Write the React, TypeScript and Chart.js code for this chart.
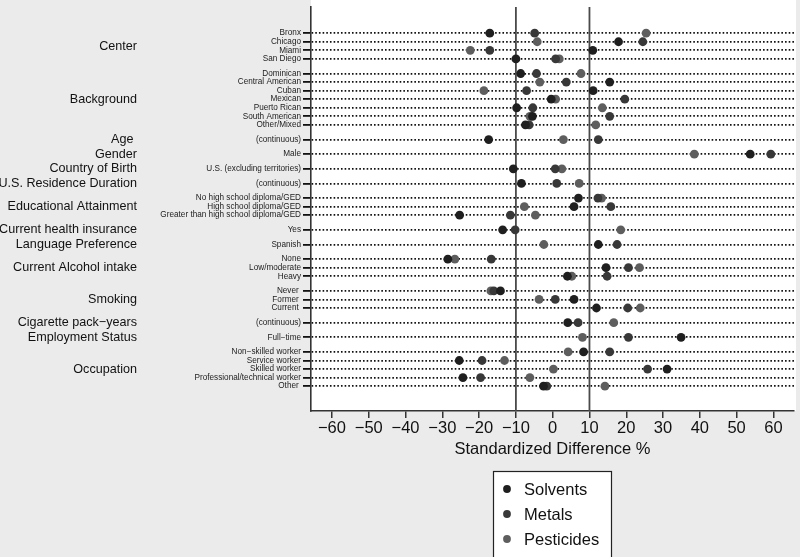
import React, { useEffect, useRef } from 'react';
import { Chart, registerables } from 'chart.js';

Chart.register(...registerables);

const groupNames = [
  'Center', 'Background', 'Age ', 'Gender', 'Country of Birth', 'U.S. Residence Duration',
  'Educational Attainment', 'Current health insurance', 'Language Preference',
  'Current Alcohol intake', 'Smoking', 'Cigarette pack\u2212years', 'Employment Status', 'Occupation',
];
const groupSizes = [4, 7, 1, 1, 1, 1, 3, 1, 1, 3, 3, 1, 1, 5];

const rowLabels = [
  'Bronx', 'Chicago', 'Miami', 'San Diego',
  'Dominican', 'Central American', 'Cuban', 'Mexican', 'Puerto Rican', 'South American', 'Other/Mixed',
  '(continuous)',
  'Male',
  'U.S. (excluding territories)',
  '(continuous)',
  'No high school diploma/GED', 'High school diploma/GED', 'Greater than high school diploma/GED',
  'Yes',
  'Spanish',
  'None', 'Low/moderate', 'Heavy',
  'Never ', 'Former ', 'Current ',
  '(continuous)',
  'Full\u2212time',
  'Non\u2212skilled worker', 'Service worker', 'Skilled worker', 'Professional/technical worker', 'Other ',
];

const solvents = [
  -17.1, 17.9, 10.9, -10.0,
  -8.7, 15.5, 11.0, -0.4, -9.8, -5.5, -7.4,
  -17.4, 53.7, -10.7, -8.5,
  7.0, 5.8, -25.3,
  -13.6, 12.4,
  -28.5, 14.5, 4.0,
  -14.2, 5.8, 11.9,
  4.1, 34.9,
  8.4, -25.4, 31.1, -24.4, -2.5,
];
const metals = [
  -4.9, 24.5, -17.1, 0.8,
  -4.4, 3.7, -7.1, 19.6, -5.4, 15.5, -6.4,
  12.4, 59.3, 0.7, 1.1,
  12.3, 15.8, -11.5,
  -10.2, 17.5,
  -16.7, 20.6, 14.8,
  -16.0, 0.7, 20.4,
  6.9, 20.6,
  15.5, -19.2, 25.8, -19.6, -1.6,
];
const pesticides = [
  25.4, -4.2, -22.4, 1.8,
  7.7, -3.5, -18.7, 0.8, 13.5, -6.2, 11.7,
  2.9, 38.5, 2.5, 7.2,
  13.3, -7.7, -4.7,
  18.5, -2.4,
  -26.6, 23.6, 5.2,
  -16.8, -3.7, 23.8,
  16.6, 8.1,
  4.2, -13.1, 0.2, -6.2, 14.2,
];

const seriesNames = ['Solvents', 'Metals', 'Pesticides'];
const seriesColors = ['#1f1f1f', '#383838', '#5e5e5e'];
const xTicks = [-60, -50, -40, -30, -20, -10, 0, 10, 20, 30, 40, 50, 60];
const refLines = [-10, 10];

const GAP = 1.71;
const FONT = "'Liberation Sans', Arial, Helvetica, sans-serif";

function rowPositions(): number[] {
  const pos: number[] = [];
  let y = 0;
  groupSizes.forEach((n, g) => {
    if (g > 0) y += GAP - 1;
    for (let i = 0; i < n; i++) {
      pos.push(y);
      y += 1;
    }
  });
  return pos;
}

export default function App() {
  const ref = useRef<HTMLCanvasElement | null>(null);

  useEffect(() => {
    document.body.style.margin = '0';
    const canvas = ref.current;
    if (!canvas) return;
    const positions = rowPositions();
    const groupCenters: number[] = [];
    let k = 0;
    groupSizes.forEach((n) => {
      groupCenters.push((positions[k] + positions[k + n - 1]) / 2);
      k += n;
    });
    const seriesValues = [solvents, metals, pesticides];

    const decor = {
      id: 'decor',
      beforeDraw(chart: any) {
        const { ctx, chartArea } = chart;
        ctx.save();
        ctx.fillStyle = '#ebebeb';
        ctx.fillRect(0, 0, chart.width, chart.height);
        ctx.fillStyle = '#ffffff';
        ctx.fillRect(chartArea.left, 0, chartArea.right - chartArea.left + 2, chartArea.bottom);
        ctx.restore();
      },
      beforeDatasetsDraw(chart: any) {
        const { ctx, chartArea, scales } = chart;
        ctx.save();
        ctx.strokeStyle = '#4a4a4a';
        ctx.lineWidth = 1.8;
        refLines.forEach((v) => {
          const x = scales.x.getPixelForValue(v);
          ctx.beginPath();
          ctx.moveTo(x, chartArea.top);
          ctx.lineTo(x, chartArea.bottom);
          ctx.stroke();
        });
        ctx.fillStyle = '#111';
        ctx.font = `12.6px ${FONT}`;
        ctx.textAlign = 'right';
        ctx.textBaseline = 'middle';
        groupNames.forEach((name, i) => {
          const y = scales.y.getPixelForValue(groupCenters[i]);
          ctx.fillText(name, 137, y);
        });
        ctx.restore();
      },
      afterDraw(chart: any) {
        const { ctx } = chart;
        ctx.save();
        ctx.fillStyle = '#ffffff';
        ctx.fillRect(493, 471, 119, 100);
        ctx.strokeStyle = '#222';
        ctx.lineWidth = 1.2;
        ctx.strokeRect(493.5, 471.5, 118, 100);
        ctx.font = `16.5px ${FONT}`;
        ctx.textAlign = 'left';
        ctx.textBaseline = 'middle';
        chart.data.datasets.forEach((ds: any, i: number) => {
          const cy = 489 + i * 25;
          ctx.fillStyle = ds.backgroundColor;
          ctx.beginPath();
          ctx.arc(507, cy, 3.9, 0, Math.PI * 2);
          ctx.fill();
          ctx.fillStyle = '#111';
          ctx.fillText(ds.label, 524, cy + 1);
        });
        ctx.restore();
      },
    };

    const chart = new Chart(canvas, {
      type: 'scatter',
      data: {
        datasets: seriesNames.map((name, s) => ({
          label: name,
          data: seriesValues[s].map((v, i) => ({ x: v, y: positions[i] })),
          backgroundColor: seriesColors[s],
          borderColor: seriesColors[s],
          borderWidth: 0,
          pointRadius: 4.4,
          pointHoverRadius: 4.4,
        })),
      },
      options: {
        animation: false,
        responsive: false,
        devicePixelRatio: 1,
        layout: { padding: { left: 0, right: 6, top: 0, bottom: 98 } },
        plugins: { legend: { display: false }, tooltip: { enabled: false } },
        scales: {
          x: {
            type: 'linear',
            min: -65.7,
            max: 65.6,
            afterBuildTicks: (scale: any) => {
              scale.ticks = xTicks.map((v) => ({ value: v }));
            },
            afterFit: (scale: any) => {
              scale.height = 48;
            },
            grid: {
              drawOnChartArea: false,
              drawTicks: true,
              tickLength: 7,
              color: '#333',
              lineWidth: 1.5,
            },
            border: { display: true, color: '#333', width: 1.5 },
            ticks: {
              padding: 1,
              color: '#111',
              font: { family: FONT, size: 16.5 },
              maxRotation: 0,
              autoSkip: false,
              callback: (v: any) => (Number(v) < 0 ? '\u2212' + Math.abs(Number(v)) : String(v)),
            },
            title: {
              display: true,
              text: 'Standardized Difference %',
              color: '#111',
              font: { family: FONT, size: 16.5 },
              padding: 0,
            },
          },
          y: {
            type: 'linear',
            reverse: true,
            min: -3.07,
            max: 44.13,
            afterBuildTicks: (scale: any) => {
              scale.ticks = positions.map((v) => ({ value: v }));
            },
            afterFit: (scale: any) => {
              scale.width = 311;
            },
            grid: {
              drawOnChartArea: true,
              drawTicks: true,
              tickLength: 8,
              color: '#111',
              lineWidth: 1.8,
            },
            border: { display: true, color: '#333', width: 1.6, dash: [1.6, 2.07] },
            ticks: {
              padding: 2,
              color: '#222',
              autoSkip: false,
              font: { family: FONT, size: 8.2 },
              callback: (_v: any, i: number) => rowLabels[i],
            },
          },
        },
      },
      plugins: [decor],
    } as any);

    return () => chart.destroy();
  }, []);

  return (
    <div style={{ width: 800, height: 557, position: 'relative', background: '#ebebeb' }}>
      <canvas ref={ref} width={800} height={557} style={{ display: 'block' }} />
    </div>
  );
}
